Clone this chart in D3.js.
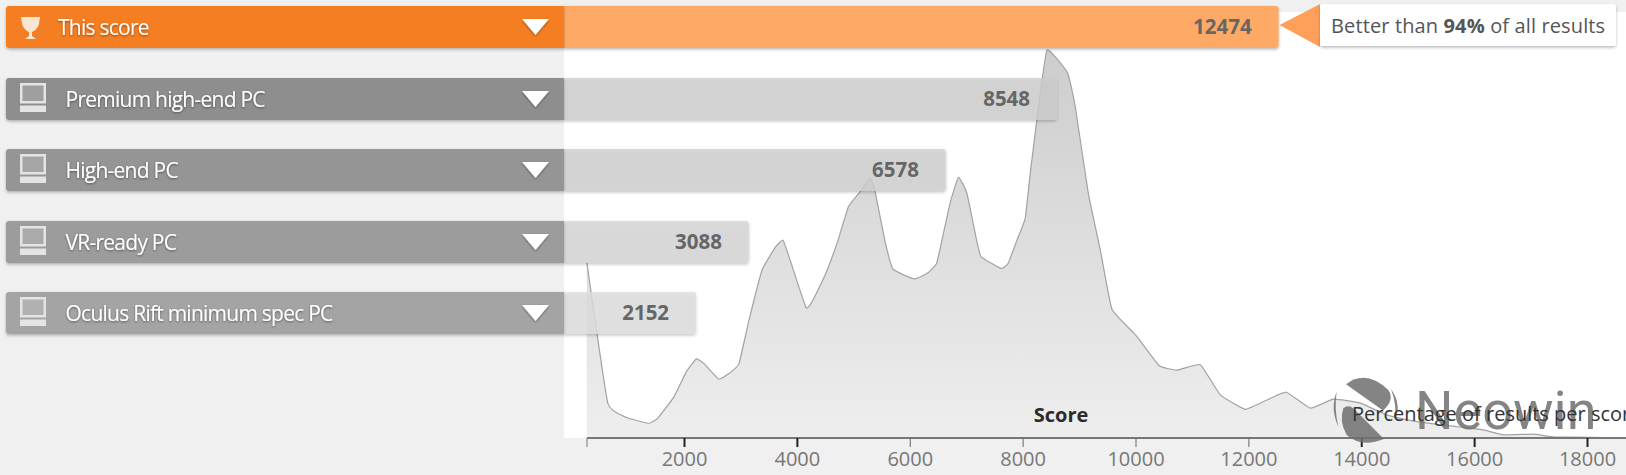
<!DOCTYPE html>
<html><head><meta charset="utf-8">
<script src="https://cdn.jsdelivr.net/npm/d3@7"></script>
<style>
html,body{margin:0;padding:0;background:#f0f0f0;overflow:hidden}
svg{display:block;font-family:"Open Sans",sans-serif}
</style></head><body>
<script>
const categories = ["This score","Premium high-end PC","High-end PC","VR-ready PC","Oculus Rift minimum spec PC"];
const scores = [12474,8548,6578,3088,2152];
const headColors = ["#f57e20","#8e8e8e","#959595","#9c9c9c","#a4a4a4"];
const tailColors = ["#ffa966","rgba(206,206,206,.8)","rgba(208,208,208,.8)","rgba(214,214,214,.8)","rgba(222,222,222,.8)"];
const tickValues = [2000,4000,6000,8000,10000,12000,14000,16000,18000];
const thickTicks = [2000,4000,14000,16000,18000];
const distScore = [277,651,998,1379,1537,1821,2043,2220,2360,2613,2803,2973,3152,3383,3626,3755,3879,4163,4287,4512,4730,4913,5121,5298,5386,5557,5704,6083,6317,6475,6571,6716,6863,7012,7184,7266,7615,7743,7900,8046,8135,8253,8431,8796,8933,9163,9376,9583,10005,10422,10741,11149,11503,11947,12331,12673,13099,13507,13985,14459,14990,15700,16166,16521,17053,17408,18700];
const distPct = [4.54,0.89,0.52,0.38,0.51,1.06,1.71,2.04,1.91,1.52,1.67,1.91,3.04,4.33,4.93,5.10,4.59,3.36,3.56,4.24,5.10,5.96,6.35,6.70,6.35,5.10,4.35,4.10,4.25,4.50,5.10,6.06,6.72,6.31,5.10,4.67,4.37,4.50,5.10,5.66,6.83,8.20,10,9.41,8.54,6.31,4.85,3.32,2.65,1.86,1.75,1.89,1.11,0.74,0.98,1.18,0.77,1.0,0.9,0.59,0.42,0.29,0.21,0.08,0.10,0.03,0];

const W=1626,H=475;
const x=d3.scaleLinear().domain([2000,18000]).range([684,1587]);
const y=d3.scaleLinear().domain([0,10]).range([438,50]);
const svg=d3.select("body").append("svg").attr("width",W).attr("height",H);
const defs=svg.append("defs");
const g=defs.append("linearGradient").attr("id","af").attr("x1",0).attr("x2",0).attr("y1",0).attr("y2",1);
g.append("stop").attr("offset",0).attr("stop-color","#cdcdcd");
g.append("stop").attr("offset",1).attr("stop-color","#eeeeee");
const sh=defs.append("filter").attr("id","sh").attr("x","-5%").attr("y","-20%").attr("width","110%").attr("height","150%");
sh.append("feDropShadow").attr("dx",0).attr("dy",1.5).attr("stdDeviation",1.6).attr("flood-color","#000").attr("flood-opacity",.28);
const ts=defs.append("filter").attr("id","ts").attr("x","-5%").attr("y","-20%").attr("width","110%").attr("height","150%");
ts.append("feDropShadow").attr("dx",0).attr("dy",1).attr("stdDeviation",1).attr("flood-color","#000").attr("flood-opacity",.45);
defs.append("clipPath").attr("id","pc").append("rect").attr("x",0).attr("y",0).attr("width",W).attr("height",H);

// plot background
svg.append("rect").attr("x",564).attr("y",12).attr("width",W-564).attr("height",426).attr("fill","#fff");

// distribution
const pts=distScore.map((s,i)=>[s,distPct[i]]);
const curve=d3.curveCardinal.tension(0.65);
const area=d3.area().x(d=>x(d[0])).y0(y(0)).y1(d=>y(d[1])).curve(curve);
const line=d3.line().x(d=>x(d[0])).y(d=>y(d[1])).curve(curve);
svg.append("path").datum(pts).attr("d",area).attr("fill","url(#af)").attr("clip-path","url(#pc)");
svg.append("path").datum(pts).attr("d",line).attr("fill","none").attr("stroke","#a2a2a2").attr("stroke-width",1.2);

// axis
const axisG=svg.append("g").attr("transform","translate(0,438)");
axisG.append("line").attr("x1",587).attr("x2",W).attr("stroke","#777").attr("stroke-width",2);
axisG.append("line").attr("x1",587).attr("x2",587).attr("y2",9).attr("stroke","#777").attr("stroke-width",1);
const ax=d3.axisBottom(x).tickValues(tickValues).tickSize(9).tickPadding(5).tickFormat(d3.format("d"));
const axg=axisG.append("g").call(ax);
axg.select(".domain").remove();
axg.selectAll("line").attr("stroke",d=>thickTicks.includes(d)?"#222":"#666").attr("stroke-width",d=>thickTicks.includes(d)?2:1);
axg.selectAll("text").attr("font-family",'"Open Sans"').attr("font-size",20).attr("fill","#777");

// bars
const rowTop=[6,78,149,221,292], rowH=42, headEnd=564;
categories.forEach((c,i)=>{
  const t=rowTop[i];
  const r=svg.append("g");
  const endX=x(scores[i])+3.5;
  r.append("path").attr("d",`M${headEnd},${t}H${endX-3}q3,0 3,3V${t+rowH-3}q0,3 -3,3H${headEnd}Z`)
    .attr("fill",tailColors[i]).attr("filter","url(#sh)");
  r.append("path").attr("d",`M${headEnd},${t}H9q-3,0 -3,3V${t+rowH-3}q0,3 3,3H${headEnd}Z`)
    .attr("fill",headColors[i]).attr("filter","url(#sh)");
  r.append("text").attr("x",i===0?58:65.5).attr("y",t+29).attr("fill","#fff").attr("font-size",21).attr("letter-spacing",-0.75)
    .attr("filter","url(#ts)").text(c);
  r.append("path").attr("d",`M522,${t+13}H549L535.5,${t+29}Z`).attr("fill","#fff").attr("filter","url(#ts)");
  r.append("text").attr("x",endX-27).attr("y",t+28).attr("text-anchor","end").attr("font-size",20.5).attr("font-weight",700).attr("fill","#666").text(scores[i]);
  const ic=r.append("g").attr("fill","#e4e4e4");
  if(i===0){
    ic.attr("fill","#fbe6d2");
    ic.append("path").attr("d",`M21,${t+11}H40L39,${t+18}Q37,${t+24} 32,${t+26}V${t+30}L36,${t+33}H25L29,${t+30}V${t+26}Q24,${t+24} 22,${t+18}Z`);
  } else {
    ic.append("path").attr("fill-opacity",.2).attr("d",`M22,${t+7}H44V${t+24}H22Z`);
    ic.append("path").attr("fill-rule","evenodd").attr("d",`M20,${t+5}H46V${t+25.5}H20ZM22.5,${t+7.5}V${t+23}H43.5V${t+7.5}Z`);
    ic.append("rect").attr("x",20).attr("y",t+27.5).attr("width",26).attr("height",6.5);
  }
});

// tooltip
svg.append("path").attr("d","M1279.5,25L1320,4V47Z").attr("fill","#ff9f5a");
svg.append("rect").attr("x",1320).attr("y",4).attr("width",296).attr("height",42).attr("rx",3).attr("fill","#fff").attr("filter","url(#sh)");
const tip=svg.append("text").attr("x",1331).attr("y",33).attr("font-size",20).attr("letter-spacing",0.13).attr("fill","#555");
tip.append("tspan").text("Better than ");
tip.append("tspan").attr("font-weight",700).text("94%");
tip.append("tspan").text(" of all results");

// watermark
const wm=svg.append("g").attr("fill","#6f6f6f").attr("fill-opacity",.85);
wm.append("path").attr("d","M1346,384.3Q1366,369 1388.3,390Q1395,400 1383,410.5Z");
wm.append("path").attr("d","M1343.3,408.3Q1339,422 1346.7,435Q1361,448 1384,439L1353.3,408.3Q1348,404 1343.3,408.3Z");
wm.append("path").attr("d","M1391,389Q1402,405 1395,420Q1397,405 1391,389Z");
wm.append("path").attr("d","M1336.7,391.7Q1330,408 1338.3,426.7Q1334,408 1336.7,391.7Z");
wm.append("text").attr("x",1415).attr("y",429).attr("font-size",54).attr("font-family","Roboto").attr("font-weight",400).text("Neowin");

// axis titles
svg.append("text").attr("x",1061).attr("y",422).attr("text-anchor","middle").attr("font-size",20).attr("font-weight",700).attr("fill","#2b2b2b").text("Score");
svg.append("text").attr("x",1352).attr("y",421).attr("font-size",20).attr("fill","#333").text("Percentage of results per score");
</script>
</body></html>
